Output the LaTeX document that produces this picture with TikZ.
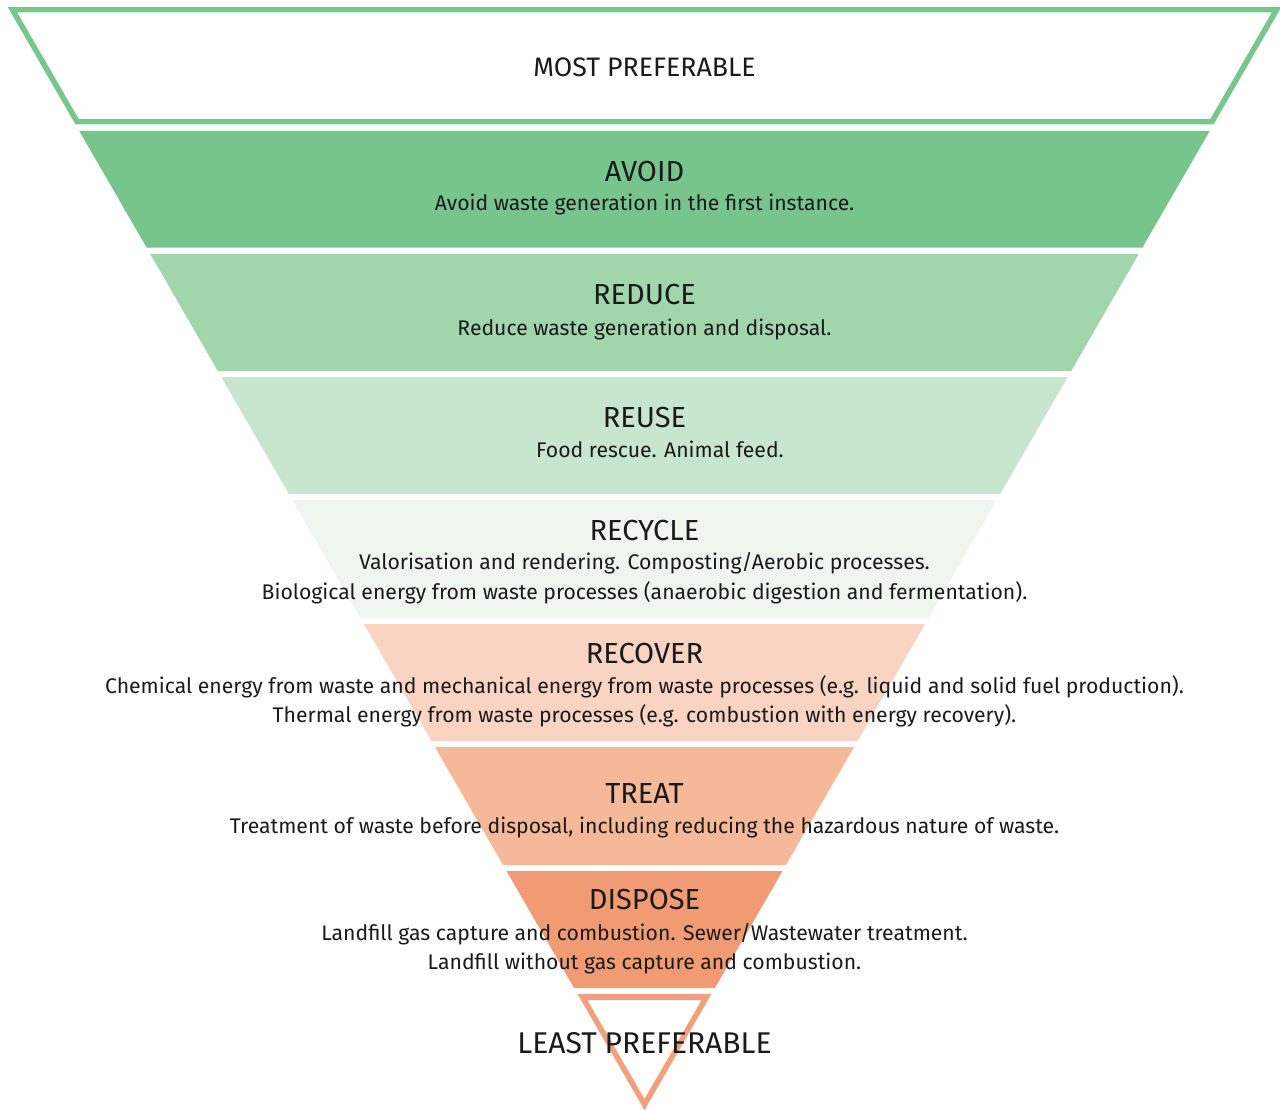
\documentclass[tikz,border=0pt]{standalone}
\usepackage{fontspec}
\setmainfont{Fira Sans}
\definecolor{outG}{HTML}{78C58D}
\definecolor{cAvoid}{HTML}{77C58C}
\definecolor{cReduce}{HTML}{A1D5AC}
\definecolor{cReuse}{HTML}{C8E5CF}
\definecolor{cRecycle}{HTML}{EEF6EE}
\definecolor{cRecover}{HTML}{F9D4C2}
\definecolor{cTreat}{HTML}{F5B898}
\definecolor{cDispose}{HTML}{F19B74}
\definecolor{outO}{HTML}{F0A07A}
\definecolor{txt}{HTML}{1A1A1A}
\begin{document}
\begin{tikzpicture}[x=1pt,y=-1pt,
  ttl/.style={anchor=base,inner sep=0pt,text=txt,font=\fontsize{29}{33}\selectfont},
  bdy/.style={anchor=base,inner sep=0pt,text=txt,font=\fontsize{21.2}{25}\selectfont}]
\useasboundingbox (0,0) rectangle (1280,1110);
\fill[white] (0,0) rectangle (1280,1110);
% half-width of the big triangle at height y: (1110-y)*0.57735, centre 644.5
\def\cx{644.5}
\newcommand{\band}[3]{%
  \fill[#3] ({\cx-(1110-#1)*0.57735},#1) -- ({\cx+(1110-#1)*0.57735},#1)
     -- ({\cx+(1110-#2)*0.57735},#2) -- ({\cx-(1110-#2)*0.57735},#2) -- cycle;}
% top outline
\fill[outG,even odd rule]
  ({\cx-(1110-7)*0.57735},7) -- ({\cx+(1110-7)*0.57735},7)
  -- ({\cx+(1110-124.5)*0.57735},124.5) -- ({\cx-(1110-124.5)*0.57735},124.5) -- cycle
  ({\cx-(1110-12.5)*0.57735+6.35},12.5) -- ({\cx+(1110-12.5)*0.57735-6.35},12.5)
  -- ({\cx+(1110-119)*0.57735-6.35},119) -- ({\cx-(1110-119)*0.57735+6.35},119) -- cycle;
\band{131}{247.7}{cAvoid}
\band{254}{371}{cReduce}
\band{377}{494}{cReuse}
\band{500}{618}{cRecycle}
\band{624}{741}{cRecover}
\band{747}{865}{cTreat}
\band{871}{988}{cDispose}
% bottom outline
\fill[outO,even odd rule]
  ({\cx-(1110-994)*0.57735},994) -- ({\cx+(1110-994)*0.57735},994) -- (\cx,1110) -- cycle
  ({\cx-(1110-1000)*0.57735+6.35},1000) -- ({\cx+(1110-1000)*0.57735-6.35},1000) -- (\cx,1099) -- cycle;
% texts
\node[ttl,font=\fontsize{26.7}{30}\selectfont] (most) at (\cx,77) {MOST PREFERABLE};
\node[ttl] (avoidT) at (\cx,182) {AVOID};
\node[bdy] (avoidB) at (\cx,211) {Avoid waste generation in the first instance.};
\node[ttl] (reduceT) at (\cx,305) {REDUCE};
\node[bdy] (reduceB) at (\cx,335) {Reduce waste generation and disposal.};
\node[ttl] (reuseT) at (\cx,427) {REUSE};
\node[bdy] (reuseB) at (660,457) {Food rescue. Animal feed.};
\node[ttl] (recycleT) at (\cx,540) {RECYCLE};
\node[bdy] (recycleB1) at (\cx,569) {Valorisation and rendering. Composting/Aerobic processes.};
\node[bdy] (recycleB2) at (\cx,599) {Biological energy from waste processes (anaerobic digestion and fermentation).};
\node[ttl] (recoverT) at (\cx,663) {RECOVER};
\node[bdy] (recoverB1) at (\cx,693) {Chemical energy from waste and mechanical energy from waste processes (e.g. liquid and solid fuel production).};
\node[bdy] (recoverB2) at (\cx,722) {Thermal energy from waste processes (e.g. combustion with energy recovery).};
\node[ttl] (treatT) at (\cx,803) {TREAT};
\node[bdy] (treatB) at (\cx,833) {Treatment of waste before disposal, including reducing the hazardous nature of waste.};
\node[ttl] (disposeT) at (\cx,909) {DISPOSE};
\node[bdy] (disposeB1) at (\cx,940) {Landfill gas capture and combustion. Sewer/Wastewater treatment.};
\node[bdy] (disposeB2) at (\cx,969) {Landfill without gas capture and combustion.};
\node[ttl,font=\fontsize{30}{34}\selectfont] (least) at (\cx,1053) {LEAST PREFERABLE};
\end{tikzpicture}
\end{document}
